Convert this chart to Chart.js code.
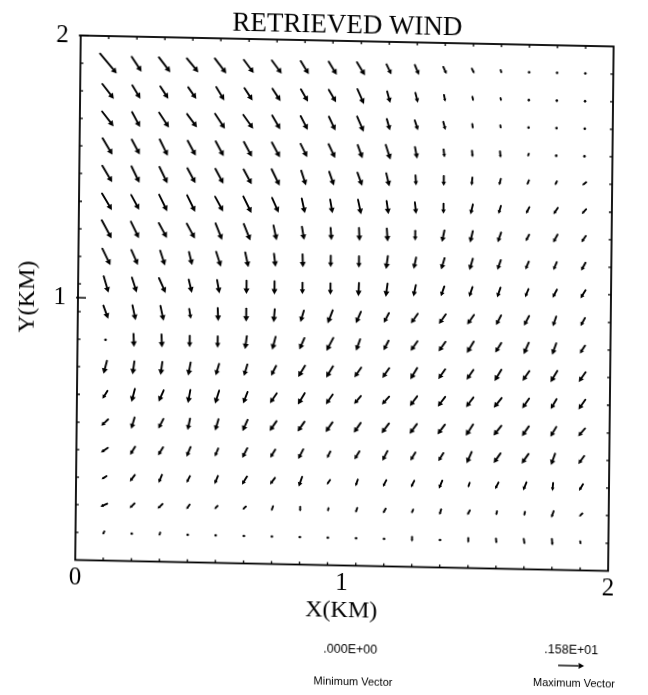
<!DOCTYPE html>
<html>
<head>
<meta charset="utf-8">
<title>Retrieved wind</title>
<script src="https://cdn.jsdelivr.net/npm/chart.js@4/dist/chart.umd.min.js"></script>
<style>
  html, body { margin: 0; padding: 0; background: #fff; overflow: hidden; }
  #sheet {
    position: relative; width: 648px; height: 695px;
    transform-origin: 345px 303px;
    transform: matrix(1, 0.0206, -0.0105, 1, 0, 0);
  }
  canvas { display: block; }
</style>
</head>
<body>
<div id="sheet"><canvas id="wind" width="648" height="695"></canvas></div>
<script>
// Grid point positions (km)
const X_KM = [0.105, 0.211, 0.316, 0.421, 0.526, 0.632, 0.737, 0.842, 0.947,
              1.053, 1.158, 1.263, 1.368, 1.474, 1.579, 1.684, 1.789, 1.895];
// Rows listed from the top of the domain downwards
const Y_KM = [1.895, 1.789, 1.684, 1.579, 1.474, 1.368, 1.263, 1.158, 1.053,
              0.947, 0.842, 0.737, 0.632, 0.526, 0.421, 0.316, 0.211, 0.105];

// Eastward wind component (m/s), one row per Y_KM entry
const U_WIND = [
  [ 1.03, 0.61, 0.71, 0.71, 0.71, 0.61, 0.61, 0.50, 0.50, 0.50, 0.30, 0.26, 0.20, 0.16, 0.06, 0.02, 0.02, 0.00],
  [ 0.71, 0.50, 0.50, 0.50, 0.50, 0.50, 0.50, 0.44, 0.45, 0.41, 0.20, 0.16, 0.08, 0.06, 0.04, 0.00, 0.00, 0.00],
  [ 0.71, 0.50, 0.61, 0.61, 0.61, 0.61, 0.50, 0.44, 0.41, 0.41, 0.20, 0.20, 0.14, 0.04, 0.03, 0.00, 0.00, 0.00],
  [ 0.61, 0.50, 0.50, 0.50, 0.50, 0.50, 0.50, 0.41, 0.41, 0.30, 0.30, 0.14, 0.06, 0.04, 0.04,-0.06,-0.04,-0.03],
  [ 0.61, 0.50, 0.50, 0.50, 0.50, 0.50, 0.50, 0.30, 0.30, 0.30, 0.20, 0.04, 0.00,-0.04,-0.10,-0.12,-0.12,-0.24],
  [ 0.61, 0.50, 0.50, 0.50, 0.50, 0.50, 0.41, 0.20, 0.15, 0.20, 0.12, 0.08, 0.00,-0.14,-0.14,-0.20,-0.26,-0.26],
  [ 0.61, 0.50, 0.50, 0.50, 0.41, 0.41, 0.20, 0.14, 0.06, 0.04, 0.06, 0.00,-0.14,-0.16,-0.20,-0.20,-0.26,-0.26],
  [ 0.50, 0.41, 0.30, 0.20, 0.30, 0.20, 0.10, 0.03, 0.00, 0.00,-0.10,-0.14,-0.20,-0.20,-0.20,-0.20,-0.20,-0.26],
  [ 0.30, 0.30, 0.41, 0.20, 0.15, 0.00, 0.00, 0.00, 0.00,-0.03,-0.10,-0.14,-0.20,-0.20,-0.20,-0.20,-0.26,-0.30],
  [ 0.30, 0.20, 0.20, 0.10, 0.04, 0.00,-0.06,-0.20,-0.30,-0.30,-0.30,-0.41,-0.41,-0.41,-0.30,-0.30,-0.20,-0.26],
  [ 0.00, 0.04, 0.04, 0.00, 0.00,-0.10,-0.20,-0.30,-0.41,-0.24,-0.30,-0.41,-0.41,-0.41,-0.36,-0.30,-0.24,-0.30],
  [-0.20,-0.10,-0.10,-0.14,-0.20,-0.20,-0.30,-0.41,-0.41,-0.41,-0.41,-0.41,-0.41,-0.41,-0.41,-0.41,-0.41,-0.41],
  [-0.30,-0.20,-0.30,-0.14,-0.24,-0.26,-0.41,-0.41,-0.41,-0.41,-0.44,-0.44,-0.44,-0.44,-0.47,-0.41,-0.35,-0.41],
  [-0.41,-0.20,-0.30,-0.14,-0.20,-0.30,-0.41,-0.41,-0.41,-0.41,-0.44,-0.44,-0.44,-0.44,-0.47,-0.41,-0.35,-0.41],
  [-0.41,-0.30,-0.30,-0.24,-0.20,-0.30,-0.30,-0.30,-0.20,-0.30,-0.30,-0.30,-0.30,-0.30,-0.41,-0.41,-0.24,-0.35],
  [-0.30,-0.30,-0.20,-0.20,-0.20,-0.30,-0.30,-0.20,-0.20,-0.14,-0.20,-0.20,-0.20,-0.10,-0.20,-0.20,-0.04,-0.24],
  [-0.41,-0.30,-0.30,-0.20,-0.20,-0.20,-0.10, 0.00,-0.04,-0.10,-0.16,-0.10,-0.10,-0.16,-0.06,-0.06,-0.14,-0.20],
  [-0.10,-0.06,-0.06,-0.09,-0.06, 0.00, 0.00, 0.00, 0.00, 0.00,-0.06, 0.00, 0.00, 0.00, 0.03, 0.06, 0.04, 0.03]
];

// Northward wind component (m/s), one row per Y_KM entry
const V_WIND = [
  [-1.21,-0.91,-0.91,-0.85,-0.91,-0.81,-0.81,-0.81,-0.81,-0.81,-0.61,-0.61,-0.44,-0.30,-0.20,-0.06,-0.04,-0.04],
  [-0.91,-0.81,-0.75,-0.71,-0.81,-0.75,-0.75,-0.75,-0.76,-0.91,-0.71,-0.61,-0.41,-0.26,-0.18,-0.06,-0.04,-0.04],
  [-0.91,-0.91,-0.91,-0.81,-0.91,-0.85,-0.85,-0.85,-0.85,-0.93,-0.71,-0.61,-0.50,-0.30,-0.20,-0.06,-0.06,-0.04],
  [-1.01,-0.91,-1.01,-0.91,-0.91,-0.91,-0.91,-0.81,-0.85,-0.81,-0.91,-0.71,-0.50,-0.41,-0.41,-0.18,-0.14,-0.06],
  [-1.01,-1.01,-1.01,-0.91,-0.91,-0.91,-1.01,-0.91,-0.85,-0.81,-0.81,-0.61,-0.61,-0.50,-0.41,-0.30,-0.24,-0.20],
  [-1.01,-0.91,-1.01,-1.01,-0.91,-1.01,-0.91,-0.91,-0.85,-0.91,-0.81,-0.71,-0.61,-0.61,-0.50,-0.41,-0.41,-0.30],
  [-1.11,-1.01,-0.91,-0.91,-1.01,-1.01,-0.91,-0.81,-0.76,-0.81,-0.81,-0.61,-0.71,-0.71,-0.61,-0.41,-0.50,-0.41],
  [-1.01,-0.91,-0.91,-0.81,-0.91,-0.91,-0.81,-0.81,-0.71,-0.71,-0.81,-0.71,-0.71,-0.71,-0.61,-0.50,-0.50,-0.50],
  [-1.01,-0.91,-0.91,-0.81,-0.81,-0.81,-0.81,-0.71,-0.71,-0.81,-0.81,-0.71,-0.61,-0.61,-0.61,-0.50,-0.50,-0.50],
  [-0.81,-0.91,-0.91,-0.61,-0.81,-0.81,-0.81,-0.71,-0.81,-0.71,-0.61,-0.61,-0.61,-0.61,-0.61,-0.61,-0.61,-0.50],
  [-0.09,-0.81,-0.81,-0.71,-0.71,-0.81,-0.81,-0.71,-0.81,-0.71,-0.61,-0.61,-0.61,-0.71,-0.61,-0.71,-0.71,-0.50],
  [-0.81,-0.81,-0.81,-0.81,-0.71,-0.71,-0.61,-0.71,-0.71,-0.61,-0.61,-0.71,-0.61,-0.61,-0.71,-0.61,-0.71,-0.61],
  [-0.50,-0.81,-0.71,-0.81,-0.81,-0.71,-0.61,-0.71,-0.61,-0.50,-0.50,-0.61,-0.61,-0.61,-0.61,-0.61,-0.61,-0.61],
  [-0.41,-0.71,-0.61,-0.71,-0.71,-0.71,-0.61,-0.61,-0.61,-0.61,-0.61,-0.61,-0.61,-0.71,-0.61,-0.61,-0.61,-0.50],
  [-0.30,-0.50,-0.50,-0.61,-0.50,-0.61,-0.50,-0.61,-0.41,-0.50,-0.61,-0.50,-0.50,-0.71,-0.61,-0.61,-0.71,-0.50],
  [-0.20,-0.41,-0.50,-0.41,-0.50,-0.50,-0.41,-0.61,-0.30,-0.41,-0.41,-0.41,-0.50,-0.30,-0.41,-0.50,-0.50,-0.41],
  [-0.20,-0.30,-0.30,-0.30,-0.20,-0.20,-0.30,-0.30,-0.20,-0.30,-0.30,-0.24,-0.35,-0.30,-0.26,-0.26,-0.41,-0.20],
  [-0.20,-0.06,-0.20,-0.10,-0.03,-0.03,-0.09,-0.06,-0.06,-0.03,-0.10,-0.30,-0.06,-0.30,-0.30,-0.35,-0.41,-0.20]
];

const X_TICKS = [0, 1, 2];
const Y_TICKS = [1, 2];

// Reference vectors shown under the plot
const MIN_VECTOR = 0.0;
const MAX_VECTOR = 1.58;
const MIN_LABEL = '.000E+00';
const MAX_LABEL = '.158E+01';
// Drawn length (km) of the maximum vector
const MAX_VECTOR_KM = 0.0975;

const SERIF = '"Liberation Serif", "Times New Roman", serif';
const SANS = '"Liberation Sans", Arial, sans-serif';

// One point per grid node, carrying its wind components
const points = [];
Y_KM.forEach((yv, j) => {
  X_KM.forEach((xv, i) => {
    points.push({ x: xv, y: yv, u: U_WIND[j][i], v: V_WIND[j][i] });
  });
});

function drawArrow(ctx, x0, y0, x1, y1) {
  const dx = x1 - x0, dy = y1 - y0;
  const len = Math.hypot(dx, dy);
  if (len < 2.5) {
    ctx.beginPath();
    ctx.arc((x0 + x1) / 2, (y0 + y1) / 2, 1.3, 0, Math.PI * 2);
    ctx.fill();
    return;
  }
  const ux = dx / len, uy = dy / len;
  const hl = Math.min(5.5, len * 0.42), hw = hl * 0.55;
  const bx = x1 - ux * hl, by = y1 - uy * hl;
  ctx.beginPath();
  ctx.moveTo(x0, y0);
  ctx.lineTo(bx, by);
  ctx.stroke();
  ctx.beginPath();
  ctx.moveTo(x1, y1);
  ctx.lineTo(bx - uy * hw, by + ux * hw);
  ctx.lineTo(bx + uy * hw, by - ux * hw);
  ctx.closePath();
  ctx.fill();
}

// Box around the plot with small inward ticks at every grid line
const framePlugin = {
  id: 'frame',
  afterDatasetsDraw(chart) {
    const { ctx, chartArea: a, scales: { x, y } } = chart;
    ctx.save();
    ctx.strokeStyle = '#000';
    ctx.lineWidth = 1.8;
    ctx.strokeRect(a.left, a.top, a.right - a.left, a.bottom - a.top);
    ctx.lineWidth = 1.3;
    ctx.beginPath();
    X_KM.forEach(v => {
      const px = x.getPixelForValue(v);
      ctx.moveTo(px, a.top); ctx.lineTo(px, a.top + 3);
      ctx.moveTo(px, a.bottom); ctx.lineTo(px, a.bottom - 3);
    });
    Y_KM.forEach(v => {
      const py = y.getPixelForValue(v);
      ctx.moveTo(a.left, py); ctx.lineTo(a.left + 3, py);
      ctx.moveTo(a.right, py); ctx.lineTo(a.right - 3, py);
    });
    Y_TICKS.forEach(v => {
      const py = y.getPixelForValue(v);
      ctx.moveTo(a.left - 2, py); ctx.lineTo(a.left + 8, py);
    });
    ctx.stroke();
    ctx.restore();
  }
};

// Wind arrows centred on their grid nodes
const quiverPlugin = {
  id: 'quiver',
  afterDatasetsDraw(chart) {
    const { ctx, scales: { x, y } } = chart;
    const kmPerMs = MAX_VECTOR_KM / MAX_VECTOR;
    ctx.save();
    ctx.strokeStyle = '#000';
    ctx.fillStyle = '#000';
    ctx.lineWidth = 1.9;
    ctx.lineCap = 'round';
    chart.data.datasets[0].data.forEach(p => {
      const h = kmPerMs / 2;
      drawArrow(ctx,
        x.getPixelForValue(p.x - p.u * h), y.getPixelForValue(p.y - p.v * h),
        x.getPixelForValue(p.x + p.u * h), y.getPixelForValue(p.y + p.v * h));
    });
    ctx.restore();
  }
};

// Minimum / maximum vector key below the x axis
const keyPlugin = {
  id: 'vectorKey',
  afterDraw(chart) {
    const { ctx, scales: { x } } = chart;
    const kmPerMs = MAX_VECTOR_KM / MAX_VECTOR;
    ctx.save();
    ctx.fillStyle = '#000';
    ctx.strokeStyle = '#000';
    ctx.textAlign = 'center';
    ctx.textBaseline = 'middle';
    ctx.font = '12.5px ' + SANS;
    ctx.fillText(MIN_LABEL, 354, 650);
    ctx.fillText(MAX_LABEL, 575, 646);
    ctx.font = '11px ' + SANS;
    ctx.fillText('Minimum Vector', 357, 682);
    ctx.fillText('Maximum Vector', 578, 679);
    const len = x.getPixelForValue(MAX_VECTOR * kmPerMs) - x.getPixelForValue(MIN_VECTOR * kmPerMs);
    ctx.lineWidth = 1.4;
    drawArrow(ctx, 575 - len / 2, 661, 575 + len / 2, 661);
    ctx.restore();
  }
};

new Chart(document.getElementById('wind'), {
  type: 'scatter',
  data: {
    datasets: [{
      label: 'Retrieved wind',
      data: points,
      pointRadius: 0,
      pointHoverRadius: 0,
      showLine: false
    }]
  },
  options: {
    responsive: false,
    animation: false,
    events: [],
    layout: { padding: { left: 0, right: 37, top: 0, bottom: 0 } },
    plugins: {
      legend: { display: false },
      tooltip: { enabled: false },
      title: {
        display: true,
        text: 'RETRIEVED WIND',
        fullSize: false,
        color: '#000',
        font: { family: SERIF, size: 27, weight: 'normal', lineHeight: 1 },
        padding: { top: 12, bottom: 2 }
      }
    },
    scales: {
      x: {
        type: 'linear',
        position: 'bottom',
        min: 0,
        max: 2,
        afterBuildTicks: s => { s.ticks = X_TICKS.map(v => ({ value: v })); },
        afterFit: s => { s.height = 129.5; },
        grid: { display: false, drawTicks: false },
        border: { display: false },
        ticks: {
          color: '#000',
          autoSkip: false,
          maxRotation: 0,
          padding: 3,
          font: { family: SERIF, size: 25, lineHeight: 1.2 }
        },
        title: {
          display: true,
          text: 'X(KM)',
          color: '#000',
          font: { family: SERIF, size: 24, lineHeight: 1.2 },
          padding: { top: 0, bottom: 70 }
        }
      },
      y: {
        type: 'linear',
        position: 'left',
        min: 0,
        max: 2,
        afterBuildTicks: s => { s.ticks = Y_TICKS.map(v => ({ value: v })); },
        afterFit: s => { s.width = 78; },
        grid: { display: false, drawTicks: false },
        border: { display: false },
        ticks: {
          color: '#000',
          autoSkip: false,
          padding: 12,
          font: { family: SERIF, size: 25, lineHeight: 1.2 }
        },
        title: {
          display: true,
          text: 'Y(KM)',
          color: '#000',
          font: { family: SERIF, size: 24, lineHeight: 1.2 },
          padding: { top: 13, bottom: 0 }
        }
      }
    }
  },
  plugins: [quiverPlugin, framePlugin, keyPlugin]
});
</script>
</body>
</html>
